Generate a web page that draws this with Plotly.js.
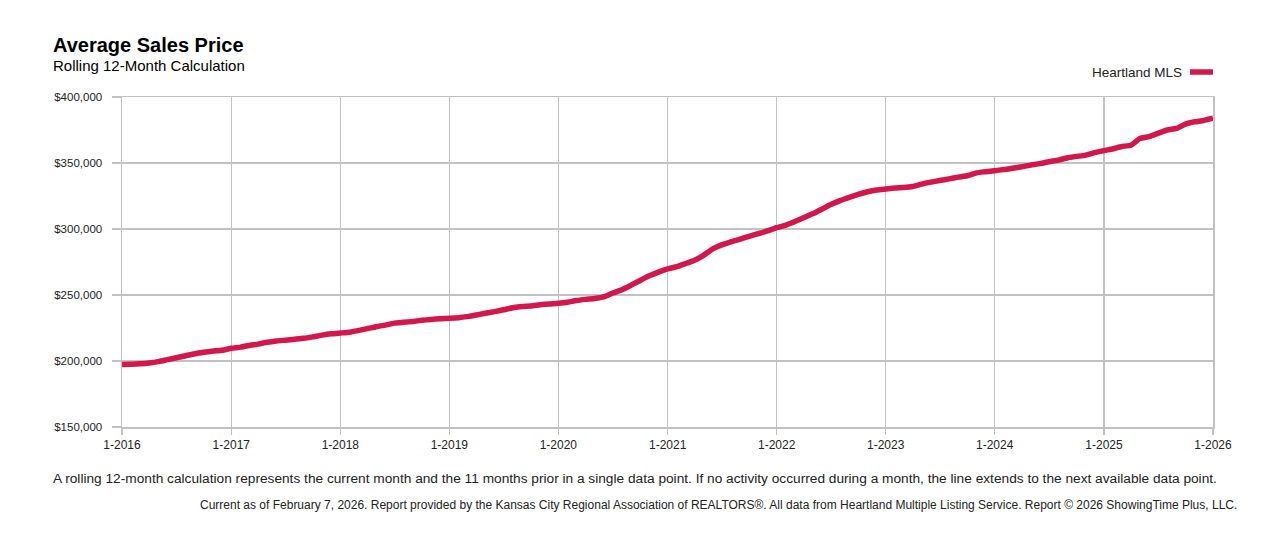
<!DOCTYPE html>
<html>
<head>
<meta charset="utf-8">
<script src="https://cdn.plot.ly/plotly-3.0.1.min.js"></script>
<style>
  html, body { margin: 0; padding: 0; background: #ffffff; }
  #chart { width: 1275px; height: 540px; }
</style>
</head>
<body>
<div id="chart"></div>
<script>
// ---- data ----
const seriesName = "Heartland MLS";
const startYear = 2016;
// Rolling 12-month average sales price, monthly from 1-2016 to 1-2026 (USD)
const avgPrice = [
  197400, 197600, 197900, 198500, 199500, 201000, 202500, 204000, 205500, 206600, 207500, 208200,
  209600, 210500, 211800, 212800, 214200, 215200, 215800, 216500, 217200, 218300, 219600, 220600,
  221200, 221800, 223000, 224500, 226000, 227200, 228700, 229300, 230000, 230800, 231500, 232000,
  232300, 232800, 233600, 234800, 236200, 237400, 238800, 240300, 241300, 241700, 242600, 243200,
  243700, 244500, 245800, 246700, 247300, 248500, 251500, 254000, 257500, 261000, 264500, 267300,
  269800, 271500, 273700, 276300, 280000, 285000, 288000, 290300, 292300, 294500, 296500, 298500,
  301000, 303000, 305500, 308500, 311500, 315000, 318500, 321500, 324000, 326200, 328200, 329600,
  330300, 331000, 331400, 332200, 334000, 335500, 336700, 338000, 339300, 340300, 342500, 343400,
  344200, 345000, 346000, 347200, 348400, 349500, 351000, 352200, 354000, 355000, 356000, 357800,
  359400, 360800, 362500, 363500, 368500, 370000, 372500, 375000, 376200, 379500, 381200, 382200,
  383900
];
const xTickYears = [2016, 2017, 2018, 2019, 2020, 2021, 2022, 2023, 2024, 2025, 2026];
const xTickLabels = ["1-2016", "1-2017", "1-2018", "1-2019", "1-2020", "1-2021", "1-2022", "1-2023", "1-2024", "1-2025", "1-2026"];
const yTickVals = [150000, 200000, 250000, 300000, 350000, 400000];
const yTickLabels = ["$150,000", "$200,000", "$250,000", "$300,000", "$350,000", "$400,000"];

const titleText = "Average Sales Price";
const subtitleText = "Rolling 12-Month Calculation";
const note1 = "A rolling 12-month calculation represents the current month and the 11 months prior in a single data point. If no activity occurred during a month, the line extends to the next available data point.";
const note2 = "Current as of February 7, 2026. Report provided by the Kansas City Regional Association of REALTORS®. All data from Heartland Multiple Listing Service. Report © 2026 ShowingTime Plus, LLC.";

// ---- build dates ----
const dates = avgPrice.map((_, i) => {
  const y = startYear + Math.floor(i / 12);
  const m = (i % 12) + 1;
  return y + "-" + String(m).padStart(2, "0") + "-01";
});
const tickDates = xTickYears.map(y => y + "-01-01");

const FONT = "'Liberation Sans', Arial, Helvetica, sans-serif";
const LINE_COLOR = "#d2174b";
const GRID = "#c2c2c2";

// plot area in pixels
const L = 122, R = 1213, T = 97, B = 427;
const px = x => (x - L) / (R - L);
const py = y => (B - y) / (B - T);

const trace = {
  x: dates,
  y: avgPrice,
  type: "scatter",
  mode: "lines",
  name: seriesName,
  line: { color: LINE_COLOR, width: 5.5, shape: "spline", smoothing: 0.5 },
  hoverinfo: "x+y",
  showlegend: false
};

const layout = {
  width: 1275,
  height: 540,
  margin: { l: L, r: 1275 - R, t: T, b: 540 - B, pad: 0 },
  paper_bgcolor: "#ffffff",
  plot_bgcolor: "#ffffff",
  font: { family: FONT, size: 12, color: "#222222" },
  xaxis: {
    type: "date",
    range: [tickDates[0], tickDates[tickDates.length - 1]],
    tickmode: "array",
    tickvals: tickDates,
    ticktext: xTickLabels,
    showgrid: true,
    gridcolor: GRID,
    gridwidth: 1.5,
    showline: true,
    linecolor: GRID,
    linewidth: 1.5,
    mirror: true,
    ticks: "outside",
    ticklen: 6,
    tickcolor: GRID,
    tickwidth: 1.5,
    tickfont: { family: FONT, size: 12, color: "#222222" },
    zeroline: false,
    fixedrange: true
  },
  yaxis: {
    range: [150000, 400000],
    tickmode: "array",
    tickvals: yTickVals,
    ticktext: yTickLabels,
    showgrid: true,
    gridcolor: GRID,
    gridwidth: 1.5,
    showline: true,
    linecolor: GRID,
    linewidth: 1.5,
    mirror: true,
    ticks: "outside",
    ticklen: 9,
    tickcolor: GRID,
    tickwidth: 1.5,
    ticklabelstandoff: 7,
    tickfont: { family: FONT, size: 11.5, color: "#222222" },
    zeroline: false,
    fixedrange: true
  },
  shapes: [
    { type: "line", xref: "paper", yref: "paper",
      x0: px(1190), x1: px(1213), y0: py(72), y1: py(72),
      line: { color: LINE_COLOR, width: 5.5 } }
  ],
  annotations: [
    { text: "<b>" + titleText + "</b>", xref: "paper", yref: "paper",
      x: px(51), y: py(45), xanchor: "left", yanchor: "middle", showarrow: false,
      font: { family: FONT, size: 20, color: "#000000" } },
    { text: subtitleText, xref: "paper", yref: "paper",
      x: px(51), y: py(65), xanchor: "left", yanchor: "middle", showarrow: false,
      font: { family: FONT, size: 15, color: "#000000" } },
    { text: seriesName, xref: "paper", yref: "paper",
      x: px(1184), y: py(72), xanchor: "right", yanchor: "middle", showarrow: false,
      font: { family: FONT, size: 13.5, color: "#222222" } },
    { text: note1, xref: "paper", yref: "paper",
      x: px(51), y: py(478), xanchor: "left", yanchor: "middle", showarrow: false,
      font: { family: FONT, size: 13.7, color: "#222222" } },
    { text: note2, xref: "paper", yref: "paper",
      x: px(1239), y: py(505), xanchor: "right", yanchor: "middle", showarrow: false,
      font: { family: FONT, size: 12, color: "#222222" } }
  ]
};

Plotly.newPlot("chart", [trace], layout, { displayModeBar: false, staticPlot: true });
</script>
</body>
</html>
